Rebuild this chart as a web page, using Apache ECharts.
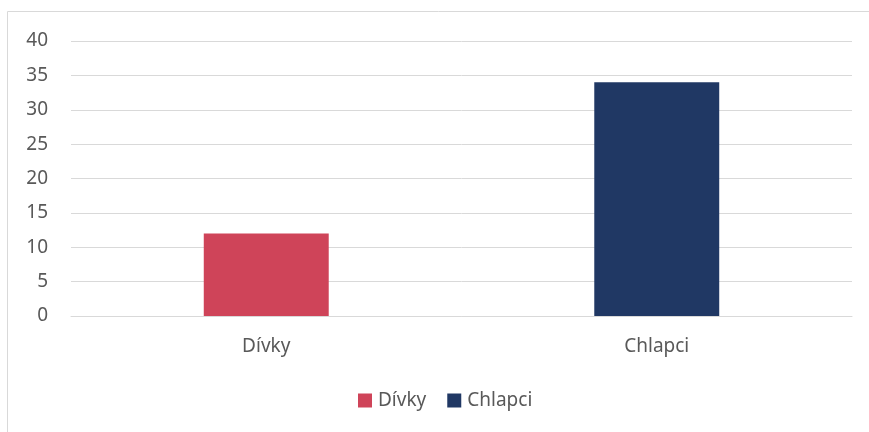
<!DOCTYPE html>
<html>
<head>
<meta charset="utf-8">
<script src="https://cdn.jsdelivr.net/npm/echarts@6/dist/echarts.min.js"></script>
<style>
  html, body { margin: 0; padding: 0; background: #fff; }
  #main { width: 869px; height: 432px; }
</style>
</head>
<body>
<div id="main"></div>
<script>
var categories = ['Dívky', 'Chlapci'];
var divkyValues = [12, '-'];
var chlapciValues = ['-', 34];
var yTicks = [0, 5, 10, 15, 20, 25, 30, 35, 40];

var chart = echarts.init(document.getElementById('main'));
var font = '"Noto Sans", sans-serif';

var option = {
    animation: false,
    textStyle: { fontFamily: font },
    graphic: [{
        type: 'rect',
        shape: { x: 7.5, y: 11.5, width: 900, height: 500 },
        style: { fill: 'none', stroke: '#d9d9d9', lineWidth: 1 },
        silent: true
    }],
    grid: { left: 71, right: 17, top: 41, bottom: 116, containLabel: false },
    legend: {
        bottom: 17,
        left: 353,
        itemWidth: 14,
        itemHeight: 14,
        itemGap: 21,
        icon: 'rect',
        textStyle: { fontSize: 19, color: '#595959', fontFamily: font, padding: [0, 0, 0, 1] },
        data: ['Dívky', 'Chlapci']
    },
    xAxis: {
        type: 'category',
        data: categories,
        axisLine: { show: true, lineStyle: { color: '#d9d9d9', width: 1 } },
        axisTick: { show: false },
        axisLabel: { fontSize: 19, color: '#595959', margin: 21, fontFamily: font }
    },
    yAxis: {
        type: 'value',
        min: yTicks[0],
        max: yTicks[yTicks.length - 1],
        interval: 5,
        axisLine: { show: false },
        axisTick: { show: false },
        splitLine: { lineStyle: { color: '#d9d9d9', width: 1 } },
        axisLabel: { fontSize: 19, color: '#595959', margin: 23, fontFamily: font }
    },
    series: [
        {
            name: 'Dívky',
            type: 'bar',
            stack: 'all',
            barWidth: '32%',
            data: divkyValues,
            itemStyle: { color: '#cf4459' }
        },
        {
            name: 'Chlapci',
            type: 'bar',
            stack: 'all',
            barWidth: '32%',
            data: chlapciValues,
            itemStyle: { color: '#203864' }
        }
    ]
};

chart.setOption(option);
</script>
</body>
</html>
